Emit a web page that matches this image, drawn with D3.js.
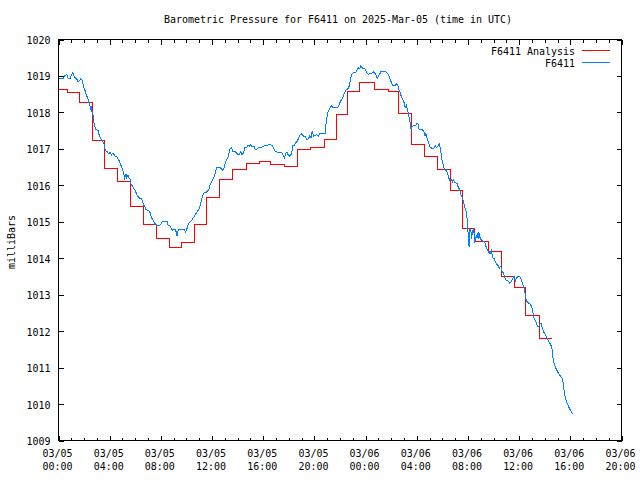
<!DOCTYPE html>
<html>
<head>
<meta charset="utf-8">
<script src="https://cdn.jsdelivr.net/npm/d3@7"></script>
<style>
  body { margin: 0; background: #fff; }
  svg { display: block; }
  text { font-family: "DejaVu Sans Mono", "Liberation Mono", monospace; font-size: 11px; fill: #000; }
</style>
</head>
<body>
<svg id="chart" width="640" height="480"></svg>
<script>
// ---------------- data ----------------
const chartTitle = "Barometric Pressure for F6411 on 2025-Mar-05 (time in UTC)";
const yAxisLabel = "milliBars";
const seriesNames = ["F6411 Analysis", "F6411"];

// hours since 2025-03-05 00:00 UTC
const xTickHours = [0, 4, 8, 12, 16, 20, 24, 28, 32, 36, 40, 44];
const xTickDates = ["03/05", "03/05", "03/05", "03/05", "03/05", "03/05", "03/06", "03/06", "03/06", "03/06", "03/06", "03/06"];
const xTickTimes = ["00:00", "04:00", "08:00", "12:00", "16:00", "20:00", "00:00", "04:00", "08:00", "12:00", "16:00", "20:00"];
const yTicks = [1009, 1010, 1011, 1012, 1013, 1014, 1015, 1016, 1017, 1018, 1019, 1020];

// Analysis (step series): start hour of each level and its value
const analysisHours = [0, 0.67, 1.62, 2.62, 3.62, 4.63, 5.63, 6.62, 7.62, 8.64, 9.65, 10.6, 11.6, 12.6, 13.6,
  14.66, 15.68, 16.6, 17.65, 18.7, 19.66, 20.75, 21.7, 22.62, 23.56, 24.7, 25.8, 26.6, 27.6, 28.6, 29.64,
  30.66, 31.6, 32.53, 33.6, 34.6, 35.65, 36.5, 37.57, 38.53];
const analysisValues = [1018.62, 1018.55, 1018.28, 1017.22, 1016.47, 1016.11, 1015.42, 1014.93, 1014.55, 1014.30,
  1014.44, 1014.93, 1015.67, 1016.17, 1016.44, 1016.61, 1016.66, 1016.58, 1016.51, 1016.97, 1017.03, 1017.25,
  1017.93, 1018.56, 1018.81, 1018.64, 1018.57, 1017.96, 1017.13, 1016.80, 1016.44, 1015.85, 1014.82, 1014.45,
  1014.18, 1013.50, 1013.20, 1012.43, 1011.80, 1011.80];

// Observations
const obsHours = [
  0.00, 0.34, 0.49, 0.65, 0.75, 0.94, 1.01, 1.12, 1.22, 1.38, 1.48, 1.53, 1.64, 1.74, 1.85, 1.90, 2.00, 2.11, 2.16, 2.26,
  2.37, 2.47, 2.52, 2.57, 2.63, 2.68, 2.73, 2.78, 2.83, 2.94, 3.09, 3.15, 3.25, 3.35, 3.46, 3.56, 3.61, 3.72, 3.82, 3.93,
  4.03, 4.13, 4.19, 4.29, 4.39, 4.55, 4.65, 4.76, 4.86, 4.97, 5.07, 5.12, 5.17, 5.28, 5.33, 5.43, 5.49, 5.59, 5.64, 5.69,
  5.80, 5.85, 5.95, 6.01, 6.11, 6.22, 6.32, 6.47, 6.58, 6.63, 6.73, 6.84, 6.99, 7.10, 7.20, 7.25, 7.36, 7.41, 7.51, 7.62,
  7.72, 7.93, 8.03, 8.14, 8.35,
  8.48, 8.58, 8.74, 8.84, 8.94, 9.10, 9.20, 9.26, 9.36, 9.83, 9.93, 10.04, 10.14, 10.24, 10.40, 10.50, 10.61, 10.71, 10.82, 10.97,
  11.08, 11.18, 11.28, 11.39, 11.60, 11.75, 11.86, 12.01, 12.12, 12.22, 12.38, 12.64, 12.79, 12.90, 13.00, 13.10, 13.26, 13.42, 13.52, 13.62,
  13.78, 13.88, 13.99, 14.09, 14.25, 14.35, 14.46, 14.56, 14.72, 14.82, 14.92, 15.03, 15.13, 15.29, 15.39, 15.50, 15.60, 15.76, 15.91, 16.02,
  16.12,
  16.30, 16.41, 16.56, 16.72, 16.82, 16.93, 17.08, 17.45, 17.55, 17.65, 17.76, 17.86, 17.97, 18.07, 18.17, 18.23, 18.28, 18.33, 18.43, 18.54,
  18.64, 18.75, 18.85, 19.01, 19.16, 19.32, 19.42, 19.53, 19.63, 19.73, 19.84, 19.89, 19.94, 20.05, 20.15, 20.31, 20.41, 20.83, 20.93, 21.03,
  21.14, 21.24, 21.35, 21.45, 21.82, 21.92, 22.02, 22.18, 22.28, 22.39, 22.49, 22.65, 22.75, 22.85, 22.96, 23.11, 23.22, 23.32, 23.43, 23.53,
  23.63, 23.74, 23.90, 24.00, 24.10, 24.21,
  24.34, 24.49, 24.60, 24.75, 24.86, 24.91, 25.01, 25.12, 25.22, 25.53, 25.64, 25.74, 25.85, 25.95, 26.05, 26.16, 26.31, 26.42, 26.52, 26.57,
  26.68, 26.78, 26.83, 26.94, 27.04, 27.09, 27.20, 27.25, 27.35, 27.41, 27.46, 27.51, 27.56, 27.61, 27.72, 27.87, 27.98, 28.08, 28.19, 28.29,
  28.45, 28.60, 28.65, 28.71, 28.81, 28.91, 29.02, 29.17, 29.33, 29.43, 29.54, 29.64, 29.75, 29.85, 29.90, 29.95, 30.00, 30.06, 30.11, 30.21,
  30.32, 30.42, 30.47, 30.58, 30.68, 30.79, 30.84, 30.94, 31.05, 31.15, 31.25, 31.36, 31.46, 31.57, 31.67, 31.77, 31.88, 31.93, 31.98, 32.03,
  32.09, 32.14, 32.19, 32.24, 32.29, 32.35, 32.45,
  32.53, 32.63, 32.74, 32.79, 32.84, 32.94, 32.99, 33.15, 33.31, 33.41, 33.52, 33.62, 33.72, 33.83, 33.93, 34.04, 34.14, 34.24, 34.35, 34.45,
  34.56, 34.66, 34.76, 34.87, 34.97, 35.08, 35.18, 35.28, 35.39, 35.49, 35.60, 35.70, 35.80, 35.91, 36.07, 36.17, 36.27, 36.38, 36.43, 36.48,
  36.53, 36.58, 36.69, 36.84, 36.95, 37.05, 37.10, 37.16, 37.26, 37.36, 37.47, 37.57, 37.62, 37.73, 37.78, 37.88, 38.04, 38.14, 38.25, 38.35,
  38.46, 38.56, 38.61, 38.66, 38.77, 38.87, 38.97, 39.13, 39.29, 39.39, 39.44, 39.50, 39.60, 39.71, 39.81, 39.96, 40.12, 40.23
];
const obsValues = [
  1018.92, 1018.92, 1019.01, 1019.03, 1018.94, 1018.94, 1019.03, 1019.10, 1018.99, 1018.92, 1018.90, 1018.83, 1018.88, 1018.92, 1018.88, 1018.79, 1018.66, 1018.57, 1018.48, 1018.42,
  1018.29, 1018.17, 1018.09, 1018.13, 1018.00, 1017.96, 1017.84, 1017.71, 1017.63, 1017.52, 1017.51, 1017.41, 1017.32, 1017.25, 1017.21, 1017.12, 1017.01, 1016.94, 1016.92, 1016.86,
  1016.90, 1016.83, 1016.86, 1016.88, 1016.81, 1016.79, 1016.72, 1016.66, 1016.57, 1016.46, 1016.37, 1016.28, 1016.20, 1016.31, 1016.22, 1016.28, 1016.22, 1016.17, 1016.08, 1016.00,
  1015.98, 1015.91, 1015.89, 1015.84, 1015.76, 1015.69, 1015.65, 1015.64, 1015.56, 1015.47, 1015.42, 1015.33, 1015.31, 1015.29, 1015.22, 1015.11, 1015.07, 1015.02, 1014.96, 1014.92,
  1014.90, 1014.90, 1014.96, 1015.02, 1015.02,
  1015.01, 1014.90, 1014.88, 1014.79, 1014.77, 1014.79, 1014.72, 1014.61, 1014.79, 1014.79, 1014.72, 1014.81, 1014.94, 1014.99, 1015.03, 1015.09, 1015.14, 1015.21, 1015.27, 1015.34,
  1015.45, 1015.60, 1015.73, 1015.80, 1015.82, 1015.89, 1016.02, 1016.13, 1016.19, 1016.30, 1016.50, 1016.50, 1016.41, 1016.44, 1016.57, 1016.68, 1016.79, 1017.01, 1017.03, 1016.94,
  1016.94, 1016.90, 1016.86, 1016.83, 1016.94, 1016.83, 1016.90, 1017.03, 1017.05, 1017.10, 1017.08, 1017.12, 1017.05, 1017.07, 1016.97, 1016.99, 1017.03, 1017.05, 1017.05, 1017.07,
  1017.10,
  1017.09, 1017.11, 1017.11, 1017.08, 1017.02, 1016.93, 1016.91, 1016.91, 1016.82, 1016.75, 1016.87, 1016.91, 1016.82, 1016.80, 1016.84, 1016.91, 1017.02, 1017.11, 1017.09, 1017.17,
  1017.20, 1017.28, 1017.37, 1017.41, 1017.35, 1017.33, 1017.24, 1017.28, 1017.35, 1017.30, 1017.50, 1017.41, 1017.35, 1017.37, 1017.39, 1017.35, 1017.41, 1017.41, 1017.77, 1017.97,
  1018.07, 1018.14, 1018.19, 1018.14, 1018.14, 1018.19, 1018.29, 1018.38, 1018.47, 1018.56, 1018.63, 1018.65, 1018.76, 1018.95, 1019.07, 1019.11, 1019.09, 1019.15, 1019.22, 1019.20,
  1019.28, 1019.22, 1019.20, 1019.17, 1019.09, 1019.04,
  1019.06, 1019.07, 1019.11, 1019.07, 1019.00, 1018.93, 1019.00, 1019.06, 1019.13, 1019.13, 1019.09, 1019.06, 1018.98, 1018.89, 1018.78, 1018.73, 1018.73, 1018.78, 1018.76, 1018.65,
  1018.58, 1018.45, 1018.40, 1018.34, 1018.23, 1018.12, 1018.21, 1018.08, 1017.97, 1017.85, 1017.77, 1017.59, 1017.52, 1017.59, 1017.63, 1017.63, 1017.68, 1017.70, 1017.53, 1017.52,
  1017.52, 1017.44, 1017.35, 1017.41, 1017.28, 1017.20, 1017.06, 1017.02, 1017.02, 1017.09, 1017.04, 1017.06, 1017.13, 1017.00, 1016.87, 1016.76, 1016.64, 1016.56, 1016.49, 1016.43,
  1016.40, 1016.34, 1016.23, 1016.14, 1016.18, 1016.10, 1016.16, 1016.09, 1016.07, 1016.05, 1015.94, 1015.88, 1015.74, 1015.65, 1015.52, 1015.37, 1015.26, 1015.10, 1014.84, 1014.58,
  1014.31, 1014.82, 1014.78, 1014.71, 1014.53, 1014.75, 1014.82,
  1014.43, 1014.57, 1014.65, 1014.54, 1014.72, 1014.57, 1014.52, 1014.48, 1014.44, 1014.32, 1014.24, 1014.17, 1014.11, 1014.21, 1014.02, 1013.99, 1013.91, 1013.84, 1013.80, 1013.73,
  1013.78, 1013.66, 1013.60, 1013.49, 1013.40, 1013.40, 1013.36, 1013.31, 1013.36, 1013.44, 1013.51, 1013.38, 1013.47, 1013.49, 1013.49, 1013.42, 1013.29, 1013.20, 1013.12, 1013.01,
  1012.89, 1012.83, 1012.78, 1012.74, 1012.70, 1012.57, 1012.45, 1012.37, 1012.30, 1012.21, 1012.12, 1012.15, 1012.19, 1012.21, 1012.12, 1012.01, 1011.90, 1011.84, 1011.77, 1011.68,
  1011.64, 1011.53, 1011.37, 1011.22, 1011.07, 1010.98, 1010.91, 1010.81, 1010.74, 1010.70, 1010.59, 1010.41, 1010.19, 1010.06, 1009.97, 1009.86, 1009.77, 1009.71
];

const seriesColors = ["#ff0000", "#0080ff"];

// ---------------- drawing ----------------
const svg = d3.select("#chart");
const plotLeft = 58.5, plotRight = 621.5, plotTop = 39.5, plotBottom = 440.5;
const CW = 6; // character cell width

const x = d3.scaleLinear().domain([0, 44]).range([plotLeft, plotRight]);
const y = d3.scaleLinear().domain([1009, 1020]).range([plotBottom, plotTop]);

function fitText(sel) {
  sel.attr("textLength", function () { return this.textContent.length * CW; })
     .attr("lengthAdjust", "spacingAndGlyphs");
}

// title
svg.append("text").attr("x", 338).attr("y", 23).attr("text-anchor", "middle")
  .text(chartTitle).call(fitText);

// y label
svg.append("text").attr("transform", "translate(15,242) rotate(-90)")
  .attr("text-anchor", "middle").text(yAxisLabel).call(fitText);

const minorHours = d3.range(0, 45).filter(h => h % 4 !== 0);

function styleAxis(g) {
  g.select(".domain").remove();
  g.selectAll("line").attr("stroke", "#000").attr("shape-rendering", "crispEdges");
}

// bottom ticks
svg.append("g").attr("transform", `translate(0,${plotBottom})`)
  .call(d3.axisBottom(x).tickValues(xTickHours).tickSize(-5).tickFormat(""))
  .call(styleAxis);
svg.append("g").attr("transform", `translate(0,${plotBottom})`)
  .call(d3.axisBottom(x).tickValues(minorHours).tickSize(-3).tickFormat(""))
  .call(styleAxis);
// top ticks
svg.append("g").attr("transform", `translate(0,${plotTop})`)
  .call(d3.axisTop(x).tickValues(xTickHours).tickSize(-5).tickFormat(""))
  .call(styleAxis);
svg.append("g").attr("transform", `translate(0,${plotTop})`)
  .call(d3.axisTop(x).tickValues(minorHours).tickSize(-3).tickFormat(""))
  .call(styleAxis);

// left ticks + labels
const yl = svg.append("g").attr("transform", `translate(${plotLeft},0)`)
  .call(d3.axisLeft(y).tickValues(yTicks).tickSize(-5).tickPadding(8).tickFormat(d3.format("d")))
  .call(styleAxis);
yl.attr("font-family", null).attr("font-size", null);
yl.selectAll("text").attr("dy", "0.36em").call(fitText);
// right ticks
svg.append("g").attr("transform", `translate(${plotRight},0)`)
  .call(d3.axisRight(y).tickValues(yTicks).tickSize(-5).tickFormat(""))
  .call(styleAxis);

// x labels (two lines)
const xl = svg.append("g");
xTickHours.forEach((h, i) => {
  const t = xl.append("text").attr("text-anchor", "middle");
  t.append("tspan").attr("x", x(h) - 1).attr("y", 457).text(xTickDates[i])
    .attr("textLength", xTickDates[i].length * CW).attr("lengthAdjust", "spacingAndGlyphs");
  t.append("tspan").attr("x", x(h) - 1).attr("y", 470).text(xTickTimes[i])
    .attr("textLength", xTickTimes[i].length * CW).attr("lengthAdjust", "spacingAndGlyphs");
});

// frame
svg.append("rect").attr("x", plotLeft).attr("y", plotTop)
  .attr("width", plotRight - plotLeft).attr("height", plotBottom - plotTop)
  .attr("fill", "none").attr("stroke", "#000").attr("shape-rendering", "crispEdges");

// series
const analysis = analysisHours.map((h, i) => [h, analysisValues[i]]);
const obs = obsHours.map((h, i) => [h, obsValues[i]]);

svg.append("path").datum(analysis)
  .attr("d", d3.line().x(d => x(d[0])).y(d => y(d[1])).curve(d3.curveStepAfter))
  .attr("fill", "none").attr("stroke", seriesColors[0]).attr("stroke-width", 1)
  .attr("shape-rendering", "crispEdges");

svg.append("path").datum(obs)
  .attr("d", d3.line().x(d => x(d[0])).y(d => y(d[1])))
  .attr("fill", "none").attr("stroke", seriesColors[1]).attr("stroke-width", 1)
  .attr("shape-rendering", "crispEdges");

// legend
const legendY = [50.5, 62.5];
seriesNames.forEach((name, i) => {
  svg.append("text").attr("x", 575).attr("y", legendY[i] + 4).attr("text-anchor", "end")
    .text(name).call(fitText);
  svg.append("line").attr("x1", 582).attr("x2", 610).attr("y1", legendY[i]).attr("y2", legendY[i])
    .attr("stroke", seriesColors[i]).attr("shape-rendering", "crispEdges");
});
</script>
</body>
</html>
